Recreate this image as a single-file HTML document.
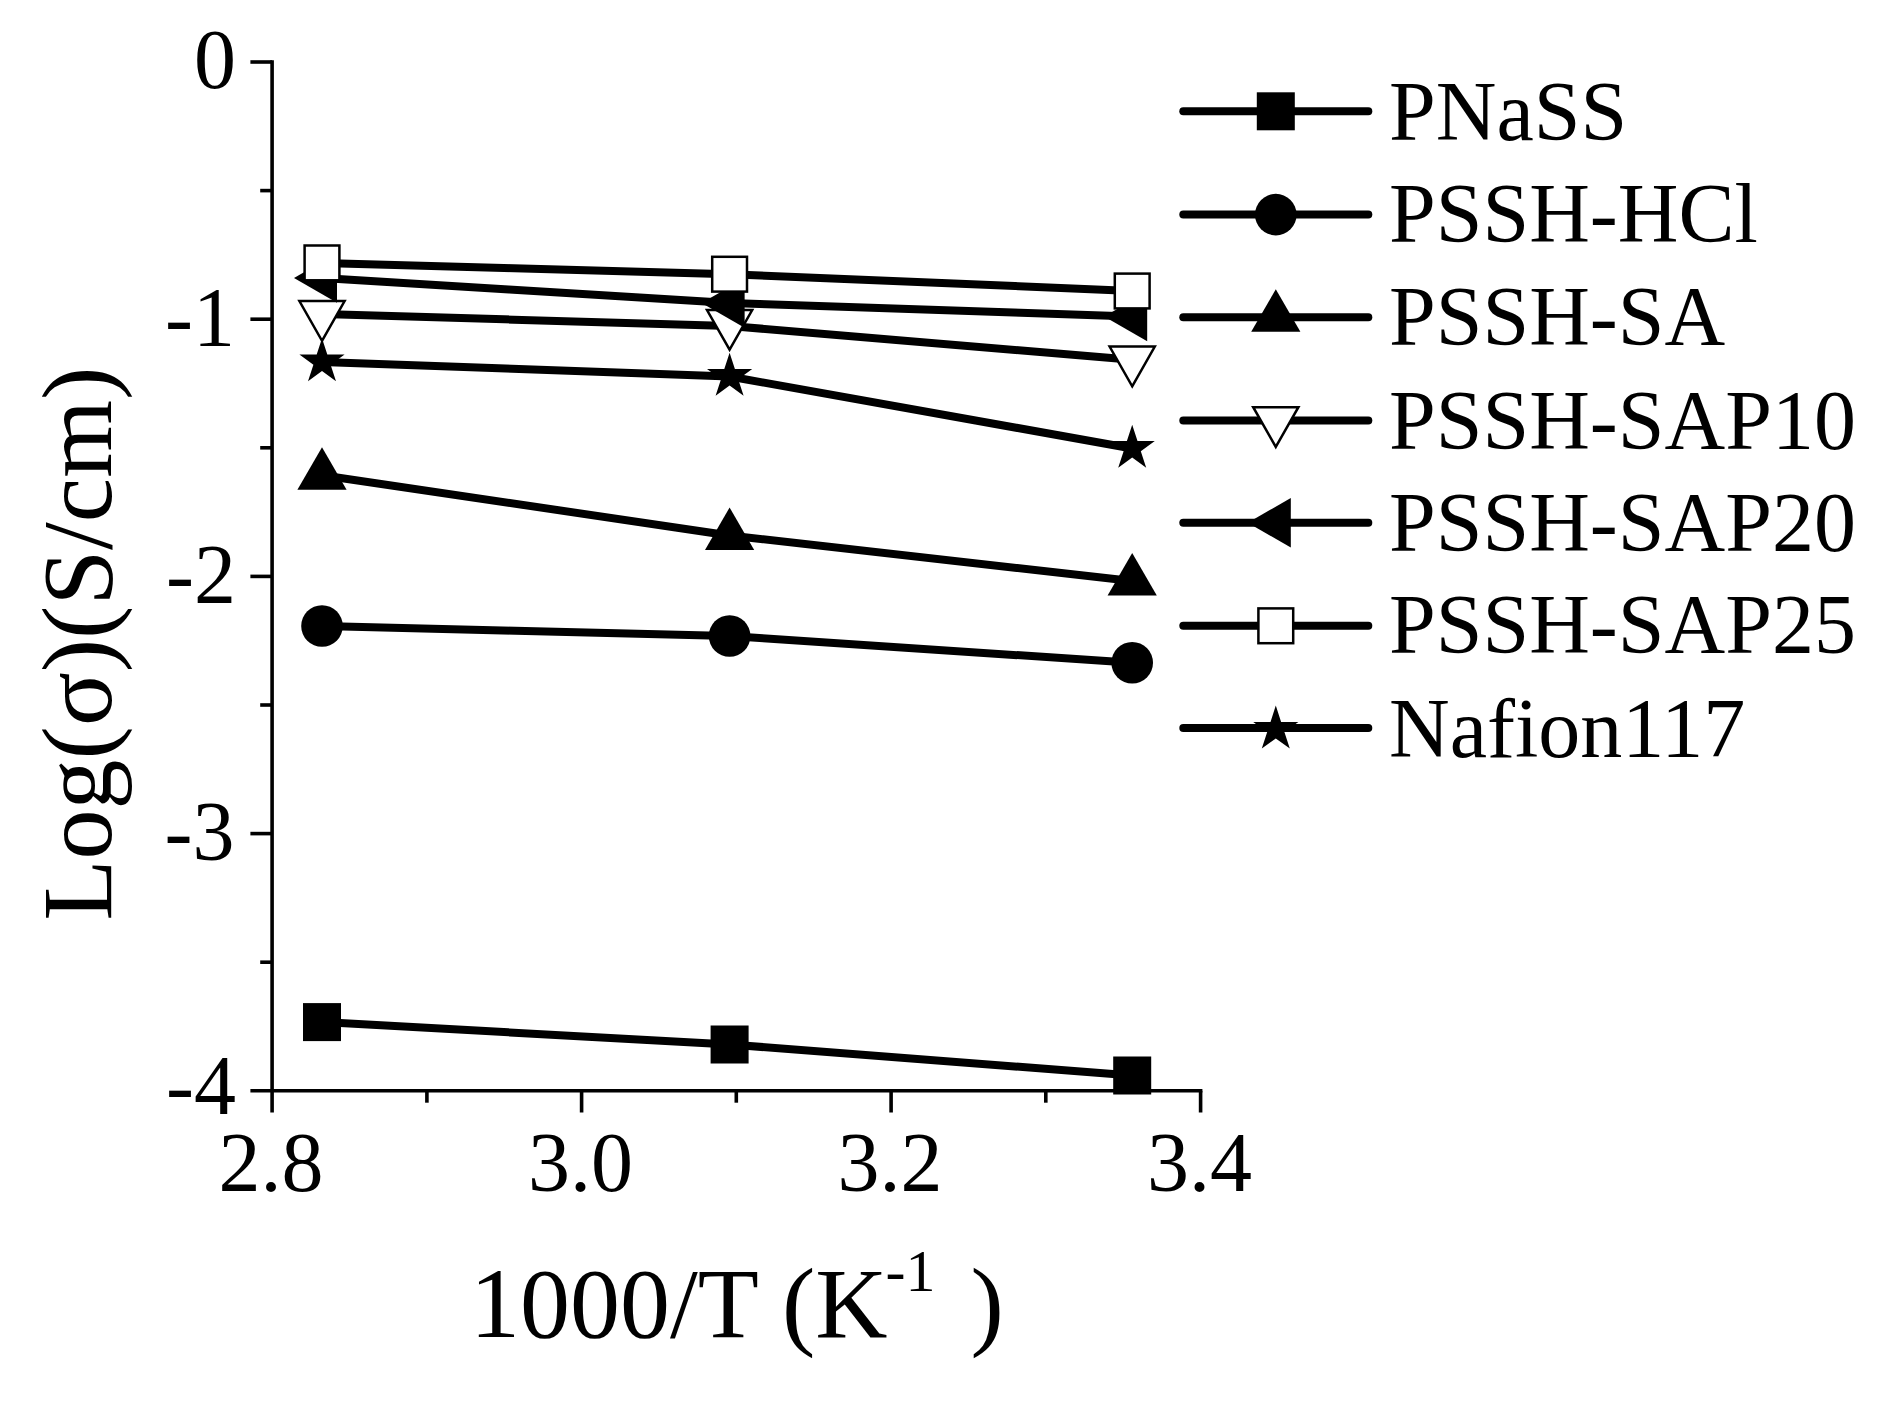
<!DOCTYPE html>
<html><head><meta charset="utf-8"><title>Conductivity</title>
<style>
html,body{margin:0;padding:0;background:#fff;}
body{width:1886px;height:1407px;overflow:hidden;}
svg{display:block;filter:blur(0.7px);}
text{font-family:"Liberation Serif","Times New Roman",serif;fill:#000;}
.tk{font-size:84px;}
.lg{font-size:84px;}
.ti{font-size:100px;}
</style></head><body>
<svg width="1886" height="1407" viewBox="0 0 1886 1407">
<rect width="1886" height="1407" fill="#fff"/>

<g stroke="#000" stroke-width="3.6" fill="none">
<line x1="272.1" y1="60.2" x2="272.1" y2="1112.5"/>
<line x1="250.40000000000003" y1="1090.8" x2="1202.3999999999999" y2="1090.8"/>
<line x1="250.40000000000003" y1="62.0" x2="272.1" y2="62.0"/>
<line x1="260.20000000000005" y1="190.6" x2="272.1" y2="190.6"/>
<line x1="250.40000000000003" y1="319.2" x2="272.1" y2="319.2"/>
<line x1="260.20000000000005" y1="447.8" x2="272.1" y2="447.8"/>
<line x1="250.40000000000003" y1="576.4" x2="272.1" y2="576.4"/>
<line x1="260.20000000000005" y1="705.0" x2="272.1" y2="705.0"/>
<line x1="250.40000000000003" y1="833.6" x2="272.1" y2="833.6"/>
<line x1="260.20000000000005" y1="962.2" x2="272.1" y2="962.2"/>
<line x1="426.9" y1="1090.8" x2="426.9" y2="1102.7"/>
<line x1="581.6" y1="1090.8" x2="581.6" y2="1112.5"/>
<line x1="736.3" y1="1090.8" x2="736.3" y2="1102.7"/>
<line x1="891.1" y1="1090.8" x2="891.1" y2="1112.5"/>
<line x1="1045.8" y1="1090.8" x2="1045.8" y2="1102.7"/>
<line x1="1200.6" y1="1090.8" x2="1200.6" y2="1112.5"/>
</g>
<text class="tk" x="236.10000000000002" y="88.0" text-anchor="end">0</text>
<text class="tk" x="235.10000000000002" y="346.2" text-anchor="end">-1</text>
<text class="tk" x="236.10000000000002" y="602.9" text-anchor="end">-2</text>
<text class="tk" x="234.60000000000002" y="859.6" text-anchor="end">-3</text>
<text class="tk" x="236.10000000000002" y="1114.3" text-anchor="end">-4</text>
<text class="tk" x="271.1" y="1191" text-anchor="middle">2.8</text>
<text class="tk" x="580.6" y="1191" text-anchor="middle">3.0</text>
<text class="tk" x="890.1" y="1191" text-anchor="middle">3.2</text>
<text class="tk" x="1199.6" y="1191" text-anchor="middle">3.4</text>
<text class="ti" x="470" y="1336.8">1000/T (K<tspan font-size="60" dy="-46" dx="-2">-1</tspan><tspan dy="46" dx="10"> )</tspan></text>
<text class="ti" transform="translate(111,920.5) rotate(-90)">Log(σ)(S/cm)</text>
<polyline points="322,1022.1 729.6,1044.5 1132.2,1075.5" fill="none" stroke="#000" stroke-width="8" stroke-linejoin="round"/>
<rect x="303.0" y="1003.1" width="38.0" height="38.0" fill="#000"/>
<rect x="710.6" y="1025.5" width="38.0" height="38.0" fill="#000"/>
<rect x="1113.2" y="1056.5" width="38.0" height="38.0" fill="#000"/>
<polyline points="322,626 729.6,636 1132.2,662.8" fill="none" stroke="#000" stroke-width="8" stroke-linejoin="round"/>
<circle cx="322.0" cy="626.0" r="20.8" fill="#000"/>
<circle cx="729.6" cy="636.0" r="20.8" fill="#000"/>
<circle cx="1132.2" cy="662.8" r="20.8" fill="#000"/>
<polyline points="322,475.3 729.6,535.5 1132.2,581" fill="none" stroke="#000" stroke-width="8" stroke-linejoin="round"/>
<polygon points="322.0,447.3 346.6,489.8 297.4,489.8" fill="#000"/>
<polygon points="729.6,507.5 754.2,550.0 705.0,550.0" fill="#000"/>
<polygon points="1132.2,553.0 1156.8,595.5 1107.6,595.5" fill="#000"/>
<polyline points="322,314 729.6,326 1132.2,359.7" fill="none" stroke="#000" stroke-width="8" stroke-linejoin="round"/>
<polygon points="322.0,340.8 344.6,301.1 299.4,301.1" fill="#fff" stroke="#000" stroke-width="2.5"/>
<polygon points="729.6,349.7 752.2,310.0 707.0,310.0" fill="#fff" stroke="#000" stroke-width="2.5"/>
<polygon points="1132.2,386.3 1154.8,346.6 1109.6,346.6" fill="#fff" stroke="#000" stroke-width="2.5"/>
<polyline points="322,278 729.6,303 1132.2,316.5" fill="none" stroke="#000" stroke-width="8" stroke-linejoin="round"/>
<polygon points="294.0,278.0 337.0,253.2 337.0,302.8" fill="#000"/>
<polygon points="701.6,303.0 744.6,278.2 744.6,327.8" fill="#000"/>
<polygon points="1104.2,316.5 1147.2,291.7 1147.2,341.3" fill="#000"/>
<polyline points="322,262.9 729.6,274.2 1132.2,291" fill="none" stroke="#000" stroke-width="8" stroke-linejoin="round"/>
<rect x="304.6" y="245.5" width="34.8" height="34.8" fill="#fff" stroke="#000" stroke-width="2.5"/>
<rect x="712.2" y="256.8" width="34.8" height="34.8" fill="#fff" stroke="#000" stroke-width="2.5"/>
<rect x="1114.8" y="273.6" width="34.8" height="34.8" fill="#fff" stroke="#000" stroke-width="2.5"/>
<polyline points="322,362 729.6,376.5 1132.2,448.5" fill="none" stroke="#000" stroke-width="8" stroke-linejoin="round"/>
<polygon points="322.0,338.2 327.3,354.6 344.6,354.6 330.6,364.8 336.0,381.3 322.0,371.1 308.0,381.3 313.4,364.8 299.4,354.6 316.7,354.6" fill="#000"/>
<polygon points="729.6,352.7 734.9,369.1 752.2,369.1 738.2,379.3 743.6,395.8 729.6,385.6 715.6,395.8 721.0,379.3 707.0,369.1 724.3,369.1" fill="#000"/>
<polygon points="1132.2,424.7 1137.5,441.1 1154.8,441.1 1140.8,451.3 1146.2,467.8 1132.2,457.6 1118.2,467.8 1123.6,451.3 1109.6,441.1 1126.9,441.1" fill="#000"/>
<line x1="1183.3" y1="111.3" x2="1368.3" y2="111.3" stroke="#000" stroke-width="8" stroke-linecap="round"/>
<rect x="1256.8" y="92.3" width="38.0" height="38.0" fill="#000"/>
<text class="lg" x="1389" y="140.2">PNaSS</text>
<line x1="1183.3" y1="214.6" x2="1368.3" y2="214.6" stroke="#000" stroke-width="8" stroke-linecap="round"/>
<circle cx="1275.8" cy="214.6" r="20.8" fill="#000"/>
<text class="lg" x="1389" y="241.8">PSSH-HCl</text>
<line x1="1183.3" y1="317.3" x2="1368.3" y2="317.3" stroke="#000" stroke-width="8" stroke-linecap="round"/>
<polygon points="1275.8,289.3 1300.4,331.8 1251.2,331.8" fill="#000"/>
<text class="lg" x="1389" y="345.4">PSSH-SA</text>
<line x1="1183.3" y1="420.4" x2="1368.3" y2="420.4" stroke="#000" stroke-width="8" stroke-linecap="round"/>
<polygon points="1275.8,446.9 1298.4,407.2 1253.2,407.2" fill="#fff" stroke="#000" stroke-width="2.5"/>
<text class="lg" x="1389" y="448.5">PSSH-SAP10</text>
<line x1="1183.3" y1="522.7" x2="1368.3" y2="522.7" stroke="#000" stroke-width="8" stroke-linecap="round"/>
<polygon points="1247.8,522.7 1290.8,497.9 1290.8,547.5" fill="#000"/>
<text class="lg" x="1389" y="551.1">PSSH-SAP20</text>
<line x1="1183.3" y1="625.8" x2="1368.3" y2="625.8" stroke="#000" stroke-width="8" stroke-linecap="round"/>
<rect x="1258.4" y="608.4" width="34.8" height="34.8" fill="#fff" stroke="#000" stroke-width="2.5"/>
<text class="lg" x="1389" y="653.2">PSSH-SAP25</text>
<line x1="1183.3" y1="728.1" x2="1368.3" y2="728.1" stroke="#000" stroke-width="8" stroke-linecap="round"/>
<polygon points="1275.8,705.5 1281.1,721.9 1298.4,721.9 1284.4,732.1 1289.8,748.6 1275.8,738.4 1261.8,748.6 1267.2,732.1 1253.2,721.9 1270.5,721.9" fill="#000"/>
<text class="lg" x="1389" y="757.4">Nafion117</text>
</svg></body></html>
